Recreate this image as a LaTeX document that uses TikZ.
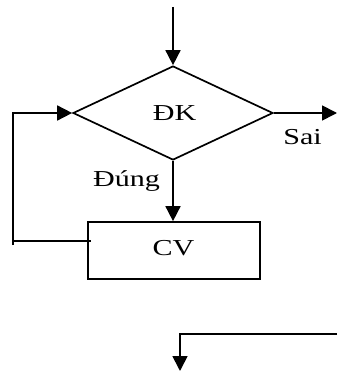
\documentclass[tikz,border=0pt]{standalone}
\usepackage{fontspec}
\setmainfont{Liberation Serif}
\usetikzlibrary{shapes.geometric,arrows.meta}
\newcommand{\wtxt}[1]{\scalebox{1.32}[1]{#1}}
\tikzset{
  conn/.style={line width=1.7pt},
  arr/.style={conn,-{Triangle[length=15pt,width=15pt]}},
  lbl/.style={font=\fontsize{22.8}{27}\selectfont, inner sep=0pt},
  dia/.style={draw,line width=1.7pt,shape=diamond,minimum width=200pt,minimum height=94pt,inner sep=0pt},
  boxn/.style={draw,line width=1.7pt,rectangle,minimum width=172pt,minimum height=57pt,inner sep=0pt}
}
\begin{document}
\begin{tikzpicture}[x=1pt,y=-1pt]
\useasboundingbox (0,0) rectangle (337,371);
\node[dia] (d) at (173,113) {};
\node[lbl,anchor=base] (dk) at (174.7,121) {\wtxt{ĐK}};
\node[boxn] (b) at (174,250.5) {};
\node[lbl,anchor=base] (cv) at (173.5,255.5) {\wtxt{CV}};
\node[lbl,anchor=base] (dung) at (126.5,186.7) {\wtxt{Đúng}};
\node[lbl,anchor=base] (sai) at (302.5,145) {\wtxt{Sai}};
\coordinate (top) at (173,7);
\coordinate (out) at (337,113);
\coordinate (lb) at (13,245);
\coordinate (lh) at (13,241);
\coordinate (bh) at (91,241);
\coordinate (r2) at (337,334);
\coordinate (c2) at (180,334);
\coordinate (e2) at (180,371);
\draw[arr] (top) -- (d.north);
\draw[arr] (d.east) -- (out);
\draw[arr] (d.south) -- (d.south |- b.north);
\draw[arr] (lb) -- (lb |- d.west) -- (d.west);
\draw[conn] (lh) -- (bh);
\draw[arr] (r2) -- (c2) -- (e2);
\end{tikzpicture}
\end{document}
